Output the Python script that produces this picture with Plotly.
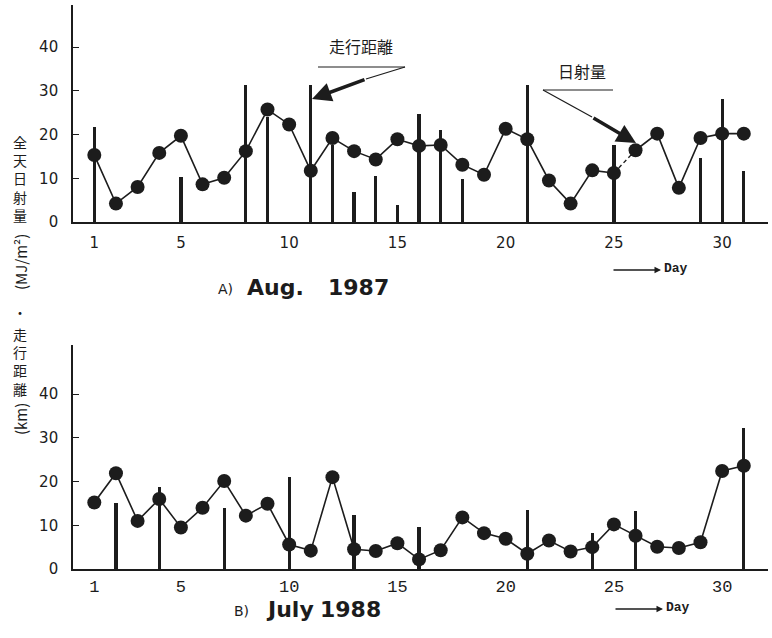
import plotly.graph_objects as go
from plotly.subplots import make_subplots

days = list(range(1, 32))
tick_days = [1, 5, 10, 15, 20, 25, 30]
y_ticks = [0, 10, 20, 30, 40]

# A) Aug. 1987
solar_1987 = [15.3, 4.2, 8.0, 15.8, 19.7, 8.6, 10.1, 16.2, 25.7, 22.3,
              11.7, 19.2, 16.2, 14.3, 18.9, 17.4, 17.6, 13.1, 10.8, 21.3,
              18.9, 9.5, 4.2, 11.8, 11.2, 16.4, 20.2, 7.8, 19.2, 20.2, 20.2]
dist_days_1987 = [1, 5, 8, 9, 11, 12, 13, 14, 15, 16, 17, 18, 21, 25, 29, 30, 31]
dist_1987 = [21.7, 10.3, 31.3, 24.0, 31.3, 17.6, 6.9, 10.5, 4.0, 24.6, 21.1,
             9.8, 31.3, 17.6, 14.7, 28.1, 11.7]

# B) July 1988
solar_1988 = [15.2, 21.9, 11.0, 16.0, 9.5, 14.0, 20.1, 12.2, 14.9, 5.6,
              4.2, 21.0, 4.5, 4.1, 5.9, 2.2, 4.3, 11.8, 8.2, 6.9,
              3.5, 6.5, 4.0, 5.0, 10.2, 7.6, 5.1, 4.8, 6.1, 22.4, 23.6]
dist_days_1988 = [2, 4, 7, 10, 13, 16, 21, 24, 26, 31]
dist_1988 = [15.2, 18.8, 14.0, 21.1, 12.3, 9.5, 13.5, 8.2, 13.2, 32.3]

W, H = 772, 638
L, R, T, B = 73, 4, 0, 0
def PX(px):
    return (px - L) / (W - L - R)
def PY(py):
    return 1 - (py - T) / (H - T - B)

fig = make_subplots(rows=2, cols=1)

ink = "#1c1c1c"
def add_series(row, sol, dd, dv, dashed_after=None):
    fig.add_trace(go.Bar(x=dd, y=dv, width=0.15, marker=dict(color=ink, line=dict(width=0)),
                         showlegend=False), row=row, col=1)
    if dashed_after is None:
        parts = [(days, sol)]
    else:
        k = days.index(dashed_after) + 1
        parts = [(days[:k], sol[:k]), (days[k:], sol[k:])]
        fig.add_trace(go.Scatter(x=days[k - 1:k + 1], y=sol[k - 1:k + 1], mode="lines",
                                 line=dict(color=ink, width=1.4, dash="4px,3px"),
                                 showlegend=False), row=row, col=1)
    for xs, ys in parts:
        fig.add_trace(go.Scatter(x=xs, y=ys, mode="lines+markers",
                                 line=dict(color=ink, width=1.6),
                                 marker=dict(color=ink, size=14),
                                 showlegend=False, cliponaxis=False), row=row, col=1)

add_series(1, solar_1987, dist_days_1987, dist_1987, dashed_after=25)
add_series(2, solar_1988, dist_days_1988, dist_1988)

xr = [1 + (73 - 94.3) / 21.65, 1 + (768 - 94.3) / 21.65]
common_x = dict(range=xr, showline=True, linecolor=ink, linewidth=1.6, showgrid=False,
                zeroline=False, tickvals=tick_days, ticks="", automargin=False)
fig.update_xaxes(domain=[0, 1], **common_x)
fig.update_xaxes(row=1, col=1, ticklabelstandoff=6,
                 tickfont=dict(family="DejaVu Sans", size=15, color=ink))
fig.update_xaxes(row=2, col=1, ticklabelstandoff=1,
                 tickfont=dict(family="Liberation Mono", size=17, color=ink))

common_y = dict(showline=True, linecolor=ink, linewidth=1.6, showgrid=False, zeroline=False,
                tickvals=y_ticks, ticks="inside", ticklen=6, tickcolor=ink, tickwidth=1.4,
                ticklabelstandoff=10, automargin=False,
                tickfont=dict(family="DejaVu Sans", size=15, color=ink))
fig.update_yaxes(row=1, col=1, range=[0, 49.6], domain=[PY(222), PY(5)], **common_y)
fig.update_yaxes(row=2, col=1, range=[0, 51.2], domain=[PY(569), PY(345)], **common_y)

fig.update_layout(width=W, height=H, margin=dict(l=L, r=R, t=T, b=B, autoexpand=False),
                  plot_bgcolor="white", paper_bgcolor="white", bargap=0, showlegend=False)

ann = []
shapes = []
jp = "Noto Sans CJK JP"

# titles
ann.append(dict(x=PX(225), y=PY(289), text="A)", font=dict(family="DejaVu Sans", size=14, color=ink)))
ann.append(dict(x=PX(275), y=PY(287), text="<b>Aug.</b>", font=dict(family="DejaVu Sans", size=22, color=ink)))
ann.append(dict(x=PX(358), y=PY(287), text="<b>1987</b>", font=dict(family="DejaVu Sans", size=22, color=ink)))
ann.append(dict(x=PX(241), y=PY(611), text="B)", font=dict(family="DejaVu Sans", size=14, color=ink)))
ann.append(dict(x=PX(290), y=PY(609), text="<b>July</b>", font=dict(family="DejaVu Sans", size=22, color=ink)))
ann.append(dict(x=PX(350), y=PY(609), text="<b>1988</b>", font=dict(family="DejaVu Sans", size=22, color=ink)))

# Day arrows
for yy, x0, x1, xt in [(270, 612, 661, 676), (609, 614, 663, 678)]:
    ann.append(dict(x=PX(x1), y=PY(yy), ax=x0 - x1, ay=0, text="", showarrow=True,
                    arrowhead=2, arrowsize=1, arrowwidth=1.3, arrowcolor=ink, standoff=0))
    ann.append(dict(x=PX(xt), y=PY(yy - 2), text="<b>Day</b>",
                    font=dict(family="Liberation Mono", size=13, color=ink)))

# callouts
ann.append(dict(x=PX(361), y=PY(46), text="走行距離", font=dict(family=jp, size=16, color=ink)))
shapes.append(dict(type="line", xref="paper", yref="paper", x0=PX(318), x1=PX(405), y0=PY(67), y1=PY(67),
                   line=dict(color=ink, width=1.2)))
shapes.append(dict(type="line", xref="paper", yref="paper", x0=PX(405), x1=PX(366), y0=PY(67), y1=PY(79),
                   line=dict(color=ink, width=1.2)))
ann.append(dict(x=PX(312), y=PY(99), ax=366 - 312, ay=79 - 99, text="", showarrow=True,
                arrowhead=2, arrowsize=1.1, arrowwidth=3.5, arrowcolor=ink, standoff=0))

ann.append(dict(x=PX(582), y=PY(71), text="日射量", font=dict(family=jp, size=16, color=ink)))
shapes.append(dict(type="line", xref="paper", yref="paper", x0=PX(543), x1=PX(613), y0=PY(90), y1=PY(90),
                   line=dict(color=ink, width=1.2)))
shapes.append(dict(type="line", xref="paper", yref="paper", x0=PX(543), x1=PX(592), y0=PY(90), y1=PY(117),
                   line=dict(color=ink, width=1.2)))
ann.append(dict(x=PX(636), y=PY(143), ax=592 - 636, ay=117 - 143, text="", showarrow=True,
                arrowhead=2, arrowsize=1.1, arrowwidth=3.5, arrowcolor=ink, standoff=0))

# vertical y-axis title (upright CJK characters stacked, latin parts rotated)
ann.append(dict(x=PX(20), y=PY(178), text="<br>".join("全天日射量"), font=dict(family=jp, size=14, color=ink)))
ann.append(dict(x=PX(20), y=PY(262), text="(MJ/m²)", textangle=-90, font=dict(family=jp, size=15, color=ink)))
ann.append(dict(x=PX(20), y=PY(312), text="・", font=dict(family=jp, size=14, color=ink)))
ann.append(dict(x=PX(20), y=PY(361), text="<br>".join("走行距離"), font=dict(family=jp, size=14, color=ink)))
ann.append(dict(x=PX(20), y=PY(419), text="(km)", textangle=-90, font=dict(family=jp, size=15, color=ink)))

for a in ann:
    a.setdefault("xref", "paper")
    a.setdefault("yref", "paper")
    a.setdefault("showarrow", False)
    a.setdefault("xanchor", "center")
    a.setdefault("yanchor", "middle")
    if a.get("showarrow"):
        a["axref"] = "pixel"
        a["ayref"] = "pixel"
fig.update_layout(annotations=ann, shapes=shapes)

fig.write_html("out.html", config={"displayModeBar": False},
               post_script="document.body.style.margin='0';document.body.style.padding='0';")
